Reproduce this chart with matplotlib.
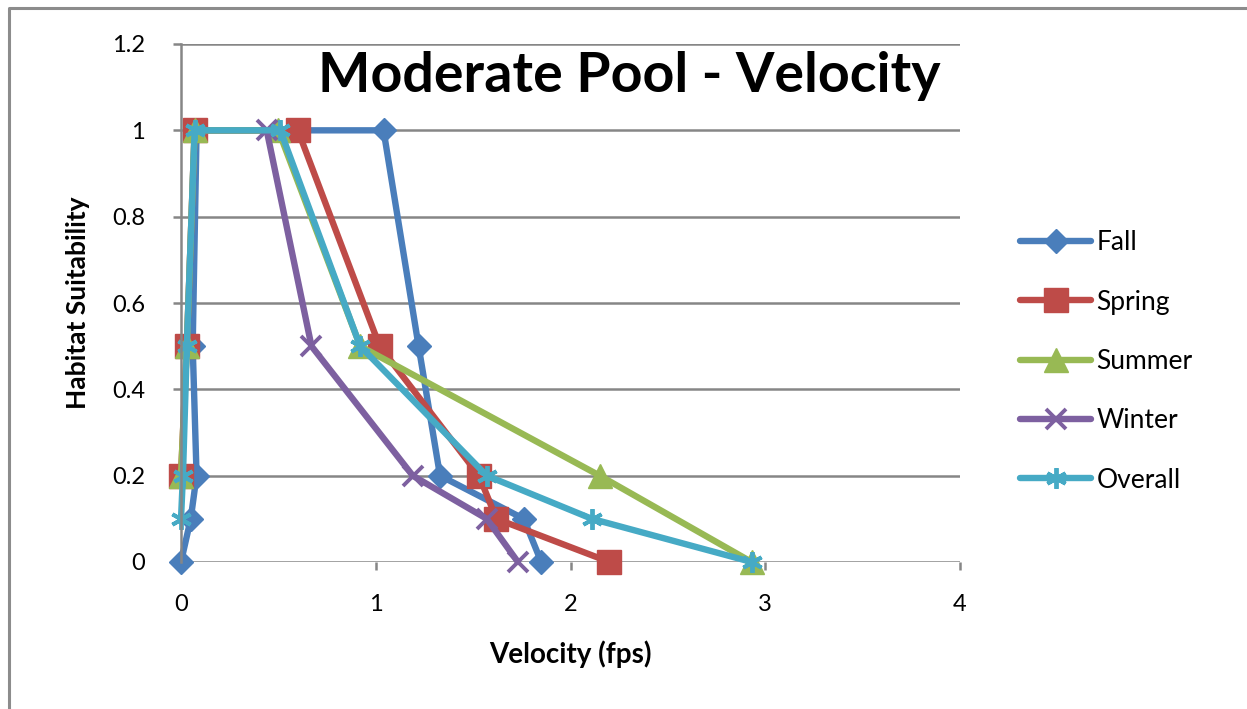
import matplotlib.pyplot as plt
from matplotlib.lines import Line2D

# values
fall_x = [0.0, 0.05, 0.08, 0.06, 0.08, 1.04, 1.22, 1.33, 1.76, 1.85]
fall_y = [0.0, 0.1, 0.2, 0.5, 1.0, 1.0, 0.5, 0.2, 0.1, 0.0]
spring_x = [0.0, 0.03, 0.07, 0.60, 1.02, 1.53, 1.62, 2.20]
spring_y = [0.2, 0.5, 1.0, 1.0, 0.5, 0.2, 0.1, 0.0]
summer_x = [0.0, 0.03, 0.07, 0.50, 0.92, 2.15, 2.93]
summer_y = [0.2, 0.5, 1.0, 1.0, 0.5, 0.2, 0.0]
winter_x = [0.44, 0.67, 1.19, 1.57, 1.73]
winter_y = [1.0, 0.5, 0.2, 0.1, 0.0]
overall_x = [0.0, 0.01, 0.03, 0.07, 0.51, 0.92, 1.57, 2.11, 2.93]
overall_y = [0.1, 0.2, 0.5, 1.0, 1.0, 0.5, 0.2, 0.1, 0.0]

series = [
    ('Fall', fall_x, fall_y, '#4A7EBB', 'D', 12),
    ('Spring', spring_x, spring_y, '#BE4B48', 's', 17),
    ('Summer', summer_x, summer_y, '#98B954', '^', 17),
    ('Winter', winter_x, winter_y, '#7D60A0', 'x', 15),
    ('Overall', overall_x, overall_y, '#46AAC5', (6, 2, 0), 15),
]

plt.rcParams['font.family'] = ['Lato', 'DejaVu Sans']

fig = plt.figure(figsize=(12.47, 7.09), dpi=100)
# chart area border (only left and top edges show)
fig.lines.append(Line2D([9 / 1247, 9 / 1247, 1.0], [0.0, 1 - 8 / 709, 1 - 8 / 709],
                        transform=fig.transFigure, color='#8C8C8C', linewidth=2.2))
ax = fig.add_axes([181 / 1247, 1 - 562 / 709, (960 - 181) / 1247, (562 - 44) / 709])

for name, xs, ys, color, marker, ms in series:
    mew = 2.8 if marker in ('x', (6, 2, 0)) else 1
    ax.plot(xs, ys, color=color, linewidth=4.6, marker=marker, markersize=ms,
            markeredgewidth=mew, markeredgecolor=color, label=name, clip_on=False,
            solid_capstyle='round')

ax.set_xlim(0, 4)
ax.set_ylim(0, 1.2)
ax.set_xticks([0, 1, 2, 3, 4])
ax.set_yticks([0, 0.2, 0.4, 0.6, 0.8, 1.0, 1.2])
ax.set_yticklabels(['0', '0.2', '0.4', '0.6', '0.8', '1', '1.2'])
ax.yaxis.grid(True, color='#868686', linewidth=1.8)
ax.set_axisbelow(True)
for side in ['top', 'right', 'bottom']:
    ax.spines[side].set_visible(False)
ax.spines['left'].set_color('#868686')
ax.spines['left'].set_linewidth(1.8)
ax.tick_params(axis='both', colors='#868686', labelcolor='black', labelsize=17,
               length=6, width=1.8, direction='out')
ax.tick_params(axis='x', pad=17)
ax.tick_params(axis='y', pad=20)

ax.set_xlabel('Velocity (fps)', fontsize=20, fontweight='bold', labelpad=18)
ax.set_ylabel('Habitat Suitability', fontsize=19, fontweight='bold', labelpad=16)
ax.text(0.575, 0.938, 'Moderate Pool - Velocity', transform=ax.transAxes, fontsize=40,
        fontweight='bold', ha='center', va='center')

ax.legend(loc='center left', bbox_to_anchor=(1.077, 0.387), frameon=False, fontsize=19,
          handlelength=2.7, handletextpad=0.2, labelspacing=1.30, borderpad=0,
          borderaxespad=0)

fig.savefig('out.png', dpi=100)
